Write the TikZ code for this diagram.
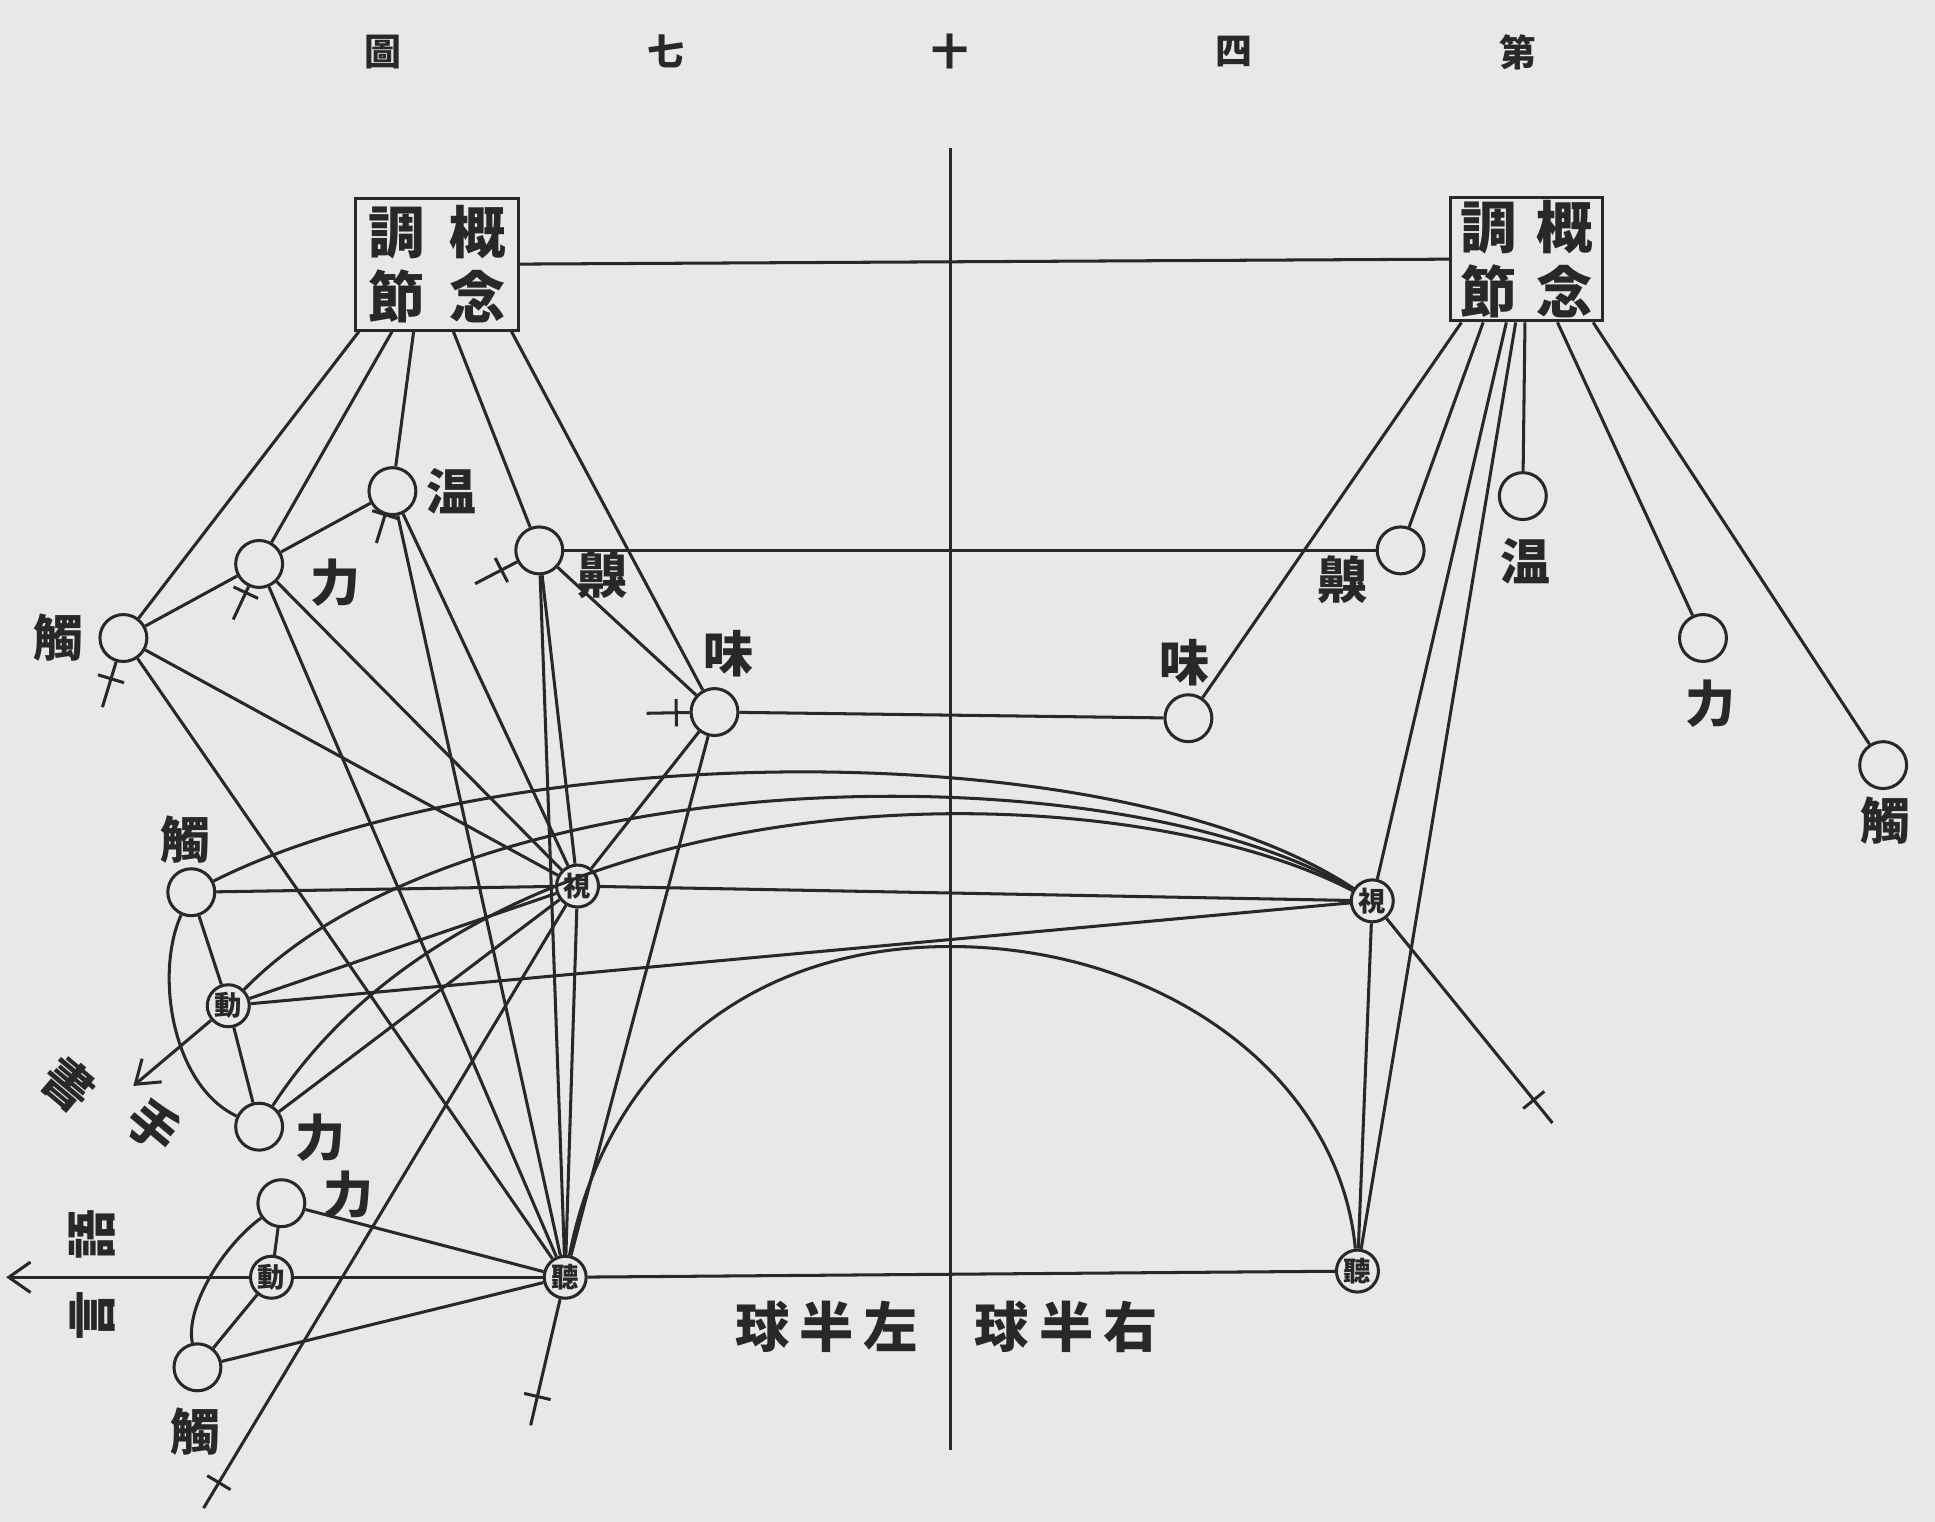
\documentclass[tikz,border=0pt]{standalone}
\usepackage{fontspec}
\newfontfamily\cjk{Noto Sans CJK JP}
\usetikzlibrary{calc,arrows.meta}
\definecolor{paper}{RGB}{232,232,232}
\definecolor{ink}{RGB}{40,40,40}
\newcommand\fibermark[2]{%
  \draw[conn] (#1) -- (#2);
  \coordinate (fc) at ($(#2)!0.24cm!(#1)$);
  \draw[conn] ($(fc)!0.11cm!90:(#1)$) -- ($(fc)!0.11cm!-90:(#1)$);
}
\begin{document}
\begin{tikzpicture}[x=0.01cm,y=0.01cm]
\tikzset{
 sense/.style={circle,draw=ink,line width=0.7pt,minimum size=0.38cm,inner sep=0pt},
 ctr/.style={circle,draw=ink,line width=0.7pt,minimum size=0.34cm,inner sep=0pt,font=\cjk\bfseries\fontsize{6.3}{6.3}\selectfont,text=ink},
 lab/.style={font=\cjk\bfseries\fontsize{11.5}{12}\selectfont,text=ink,inner sep=0pt},
 hemi/.style={font=\cjk\bfseries\fontsize{12.5}{13}\selectfont,text=ink,inner sep=0pt},
 ttl/.style={font=\cjk\bfseries\fontsize{8.5}{8.5}\selectfont,text=ink},
 cbox/.style={draw=ink,line width=0.7pt,rectangle,inner sep=0pt,font=\cjk\bfseries\fontsize{13}{15}\selectfont,align=center,text=ink},
 conn/.style={draw=ink,line width=0.7pt},
 arr/.style={conn,-{Straight Barb[length=5pt,width=7pt]}},
}
\fill[paper] (0,0) rectangle (1568,-1233);
\useasboundingbox (0,0) rectangle (1568,-1233);

% title
\node[ttl] (t_a) at (1230,-42) {第};
\node[ttl] (t_b) at (1000,-42) {四};
\node[ttl] (t_c) at (770,-42) {十};
\node[ttl] (t_d) at (540,-42) {七};
\node[ttl] (t_e) at (310,-42) {圖};

% midline
\coordinate (vtop) at (770,-120);
\coordinate (vbot) at (770,-1175);
\draw[conn] (vtop) -- (vbot);
\node[hemi] (lhemi) at (670,-1075) {球\hspace{0.08cm}半\hspace{0.08cm}左};
\node[hemi] (rhemi) at (864,-1075) {球\hspace{0.08cm}半\hspace{0.08cm}右};

% boxes
\node[cbox,minimum width=1.32cm,minimum height=1.07cm] (lbox) at (354,-214) {調\hspace{0.2cm}概\\節\hspace{0.2cm}念};
\node[cbox,minimum width=1.23cm,minimum height=1.0cm] (rbox) at (1237,-210) {調\hspace{0.16cm}概\\節\hspace{0.16cm}念};
\draw[conn] (lbox.east) -- (rbox.west);

% left upper sensory nodes
\node[sense] (t1) at (100,-517) {};
\node[sense] (f1) at (210,-457) {};
\node[sense] (w1) at (318,-398) {};
\node[sense] (s1) at (437,-446) {};
\node[sense] (m1) at (579,-577) {};
\node[lab] (t1l) at (47,-517) {觸};
\node[lab] (f1l) at (272,-472) {力};
\node[lab] (w1l) at (366,-398) {温};
\node[lab] (s1l) at (488,-466) {齅};
\node[lab] (m1l) at (590,-530) {味};

% right upper sensory nodes
\node[sense] (s2) at (1135,-446) {};
\node[sense] (w2) at (1234,-402) {};
\node[sense] (f4) at (1380,-517) {};
\node[sense] (t4) at (1526,-620) {};
\node[sense] (m2) at (963,-582) {};
\node[lab] (s2l) at (1088,-470) {齅};
\node[lab] (w2l) at (1236,-455) {温};
\node[lab] (f4l) at (1386,-570) {力};
\node[lab] (t4l) at (1528,-665) {觸};
\node[lab] (m2l) at (960,-537) {味};

% centres
\node[ctr] (v1) at (468,-718) {視};
\node[ctr] (v2) at (1112,-730) {視};
\node[ctr] (h1) at (458,-1035) {聽};
\node[ctr] (h2) at (1100,-1030) {聽};

% left lower clusters
\node[sense] (t2) at (155,-723) {};
\node[ctr] (d1) at (185,-815) {動};
\node[sense] (f2) at (210,-913) {};
\node[lab] (t2l) at (150,-680) {觸};
\node[lab] (f2l) at (260,-922) {力};

\node[sense] (f3) at (228,-975) {};
\node[ctr] (d2) at (220,-1035) {動};
\node[sense] (t3) at (160,-1108) {};
\node[lab] (f3l) at (282,-968) {力};
\node[lab] (t3l) at (158,-1160) {觸};

% box bottoms
\coordinate (lb1) at ($(lbox.south west)!0.03!(lbox.south east)$);
\coordinate (lb2) at ($(lbox.south west)!0.23!(lbox.south east)$);
\coordinate (lb3) at ($(lbox.south west)!0.36!(lbox.south east)$);
\coordinate (lb4) at ($(lbox.south west)!0.60!(lbox.south east)$);
\coordinate (lb5) at ($(lbox.south west)!0.95!(lbox.south east)$);
\coordinate (rb1) at ($(rbox.south west)!0.08!(rbox.south east)$);
\coordinate (rb2) at ($(rbox.south west)!0.22!(rbox.south east)$);
\coordinate (rb3) at ($(rbox.south west)!0.37!(rbox.south east)$);
\coordinate (rb4) at ($(rbox.south west)!0.43!(rbox.south east)$);
\coordinate (rb5) at ($(rbox.south west)!0.49!(rbox.south east)$);
\coordinate (rb6) at ($(rbox.south west)!0.70!(rbox.south east)$);
\coordinate (rb7) at ($(rbox.south west)!0.93!(rbox.south east)$);

\draw[conn] (lb1) -- (t1);
\draw[conn] (lb2) -- (f1);
\draw[conn] (lb3) -- (w1);
\draw[conn] (lb4) -- (s1);
\draw[conn] (lb5) -- (m1);
\draw[conn] (rb1) -- (m2);
\draw[conn] (rb2) -- (s2);
\draw[conn] (rb3) -- (v2);
\draw[conn] (rb4) -- (h2);
\draw[conn] (rb5) -- (w2);
\draw[conn] (rb6) -- (f4);
\draw[conn] (rb7) -- (t4);

% upper left links
\draw[conn] (t1) -- (f1);
\draw[conn] (f1) -- (w1);
\draw[conn] (s1) -- (m1);
\draw[conn] (s1) -- (s2);
\draw[conn] (m1) -- (m2);
\foreach \n in {t1,f1,w1,s1,m1}{
  \draw[conn] (\n) -- (v1);
  \draw[conn] (\n) -- (h1);
}

% centres
\draw[conn] (v1) -- (v2);
\draw[conn] (v1) -- (h1);
\draw[conn] (v2) -- (h2);
\draw[conn] (h1) -- (h2);
\draw[conn] (h1) .. controls (490,-870) and (600,-767) .. (770,-767)
                 .. controls (940,-767) and (1085,-870) .. (h2);

% lower left cluster 1
\draw[conn] (t2) -- (d1);
\draw[conn] (d1) -- (f2);
\draw[conn] (t2) .. controls (125,-790) and (140,-880) .. (f2);
\draw[conn] (t2) -- (v1);
\draw[conn] (d1) -- (v1);
\draw[conn] (f2) -- (v1);
\draw[conn] (d1) -- (v2);
\draw[conn] (t2) .. controls (400,-600) and (900,-590) .. (v2);
\draw[conn] (d1) .. controls (380,-615) and (900,-605) .. (v2);
\draw[conn] (f2) .. controls (400,-620) and (900,-620) .. (v2);
\coordinate (handend) at (108,-880);
\draw[arr] (d1) -- (handend);
\node[lab,rotate=-40] (hw1) at (56,-878) {書};
\node[lab,rotate=-40] (hw2) at (125,-912) {手};

% lower left cluster 2
\draw[conn] (f3) -- (d2);
\draw[conn] (d2) -- (t3);
\draw[conn] (f3) .. controls (180,-1010) and (150,-1060) .. (t3);
\draw[conn] (f3) -- (h1);
\draw[conn] (d2) -- (h1);
\draw[conn] (t3) -- (h1);
\coordinate (speechend) at (5,-1035);
\draw[arr] (d2) -- (speechend);
\node[lab,rotate=90] (sp1) at (75,-1000) {語};
\node[lab,rotate=90] (sp2) at (75,-1066) {言};

% incoming fibres
\coordinate (e1) at (83,-573);
\coordinate (e2) at (189,-502);
\coordinate (e3) at (305,-440);
\coordinate (e4) at (385,-473);
\coordinate (e5) at (524,-578);
\coordinate (e6) at (165,-1222);
\coordinate (e7) at (430,-1155);
\coordinate (e8) at (1258,-910);
\fibermark{t1}{e1}
\fibermark{f1}{e2}
\fibermark{w1}{e3}
\fibermark{s1}{e4}
\fibermark{m1}{e5}
\fibermark{v1}{e6}
\fibermark{h1}{e7}
\fibermark{v2}{e8}
\end{tikzpicture}
\end{document}
